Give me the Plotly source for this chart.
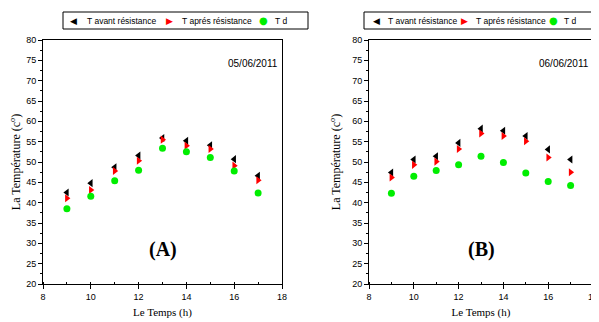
import plotly.graph_objects as go

hours = [9, 10, 11, 12, 13, 14, 15, 16, 17]

# Panel A (05/06/2011)
a_avant = [42.5, 44.8, 48.7, 51.6, 55.9, 55.2, 54.1, 50.7, 46.6]
a_apres = [41.1, 43.1, 47.8, 50.3, 55.5, 54.0, 53.2, 49.1, 45.5]
a_td = [38.5, 41.6, 45.4, 48.0, 53.4, 52.5, 51.1, 47.8, 42.4]

# Panel B (06/06/2011)
b_avant = [47.4, 50.6, 51.4, 54.7, 58.2, 57.7, 56.4, 53.1, 50.6]
b_apres = [46.2, 49.3, 50.1, 53.2, 57.0, 56.4, 55.1, 51.1, 47.5]
b_td = [42.3, 46.5, 47.9, 49.3, 51.4, 49.9, 47.3, 45.2, 44.2]

names = ["T avant résistance", "T aprés résistance", "T d"]
dates = ["05/06/2011", "06/06/2011"]
panel_labels = ["(A)", "(B)"]

W, H = 599, 322
OFF = 8  # the page body has an 8px margin
def px(x):
    return (x - OFF) / W
def py(y):
    return 1 - (y - OFF) / H

fig = go.Figure()

styles = [
    dict(symbol="triangle-left", color="black", glyph="◀"),
    dict(symbol="triangle-right", color="red", glyph="▶"),
    dict(symbol="circle", color="#00ee00", glyph="●"),
]

panels = [
    (a_avant, a_apres, a_td, "x", "y"),
    (b_avant, b_apres, b_td, "x2", "y2"),
]
for (s1, s2, s3, xa, ya) in panels:
    for vals, nm, st in zip([s1, s2, s3], names, styles):
        fig.add_trace(go.Scatter(
            x=hours, y=vals, mode="markers", name=nm,
            xaxis=xa, yaxis=ya, showlegend=False,
            marker=dict(symbol=st["symbol"], color=st["color"], size=7,
                        line=dict(width=0)),
        ))

SANS = "Liberation Sans, Arial, sans-serif"
SERIF = "Liberation Serif, Times New Roman, serif"
tickfont = dict(family=SANS, size=9, color="black")
titlefont = dict(family=SERIF, size=12, color="black")

def xaxis(domain, anchor):
    return dict(domain=domain, anchor=anchor, range=[8, 18], dtick=2, tick0=8,
                automargin=False,
                ticks="outside", ticklen=4, tickwidth=1, tickcolor="black",
                showline=True, linecolor="black", linewidth=1, mirror=True,
                showgrid=False, zeroline=False, tickfont=tickfont,
                minor=dict(dtick=1, ticks="inside", ticklen=2, tickcolor="black"),
                title=dict(text="Le Temps (h)", font=dict(family=SERIF, size=11, color="black"),
                           standoff=7))

def yaxis(domain, anchor):
    return dict(domain=domain, anchor=anchor, range=[20, 80], dtick=5, tick0=20,
                automargin=False,
                ticks="outside", ticklen=4, tickwidth=1, tickcolor="black",
                showline=True, linecolor="black", linewidth=1, mirror=True,
                showgrid=False, zeroline=False, tickfont=tickfont,
                minor=dict(dtick=2.5, ticks="outside", ticklen=2, tickcolor="black"),
                title=dict(text="La Température (c<sup>o</sup>)", font=titlefont, standoff=8))

fig.update_layout(
    width=W, height=H,
    margin=dict(l=0, r=0, t=0, b=0, autoexpand=False),
    paper_bgcolor="white", plot_bgcolor="white",
    showlegend=False,
    xaxis=xaxis([px(43), px(282)], "y"),
    yaxis=yaxis([py(284), py(40)], "x"),
    xaxis2=xaxis([px(369), px(593)], "y2"),
    yaxis2=yaxis([py(284), py(40)], "x2"),
)

annots = []
shapes = []
# manual legends (box + glyph + label), one per panel
legend_boxes = [(63, 308), (364, 595)]
legend_glyph_x = [[73, 170, 263], [376, 464, 553]]
legend_text_x = [[85, 180, 273], [386, 474, 562]]
for b in range(2):
    x0, x1 = legend_boxes[b]
    X0, X1, Y0, Y1 = px(x0), px(x1), py(29), py(12)
    for (a, bb, c, d) in [(X0, Y0, X1, Y0), (X0, Y1, X1, Y1), (X0, Y0, X0, Y1), (X1, Y0, X1, Y1)]:
        shapes.append(dict(type="line", xref="paper", yref="paper", layer="above",
                           x0=a, y0=bb, x1=c, y1=d, line=dict(color="black", width=1)))
    for k in range(3):
        annots.append(dict(text=styles[k]["glyph"], x=px(legend_glyph_x[b][k]), y=py(20.5),
                           xref="paper", yref="paper", xanchor="center", yanchor="middle",
                           showarrow=False,
                           font=dict(family="DejaVu Sans", size=9 if k < 2 else 10,
                                     color=styles[k]["color"])))
        annots.append(dict(text=names[k], x=px(legend_text_x[b][k]), y=py(20.5),
                           xref="paper", yref="paper", xanchor="left", yanchor="middle",
                           showarrow=False,
                           font=dict(family=SANS, size=8.5, color="black")))

for i, (xa, ya) in enumerate([("x", "y"), ("x2", "y2")]):
    annots.append(dict(text=dates[i], x=17.9, y=74.3, xref=xa, yref=ya,
                       xanchor="right", yanchor="middle", showarrow=False,
                       font=dict(family=SANS, size=10, color="black")))
    annots.append(dict(text="<b>%s</b>" % panel_labels[i], x=13, y=28.5, xref=xa, yref=ya,
                       xanchor="center", yanchor="middle", showarrow=False,
                       font=dict(family=SERIF, size=20, color="black")))

fig.update_layout(annotations=annots, shapes=shapes)

fig.write_html("out.html")
